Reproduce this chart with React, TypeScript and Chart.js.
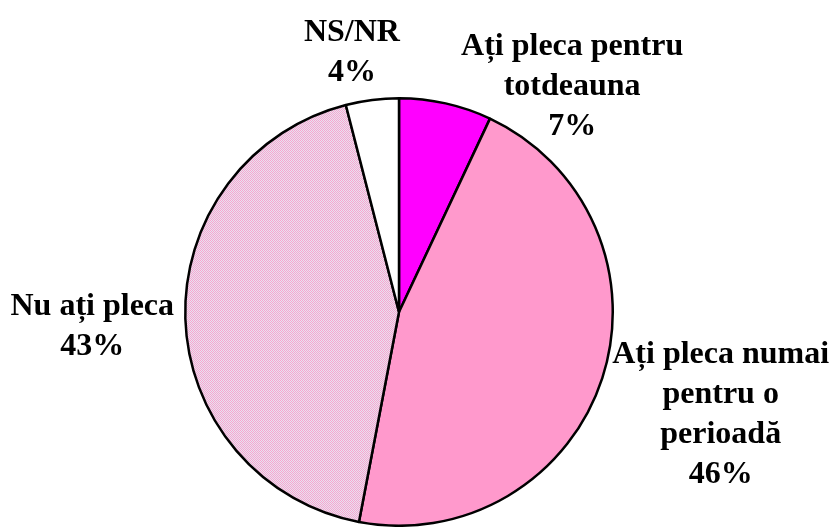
import React, { useEffect, useRef } from "react";
import { Chart, registerables } from "chart.js";

Chart.register(...registerables);

const categories: string[][] = [
  ["Ați pleca pentru", "totdeauna"],
  ["Ați pleca numai", "pentru o", "perioadă"],
  ["Nu ați pleca"],
  ["NS/NR"],
];
const values: number[] = [7, 46, 43, 4];
const percentLabels: string[] = ["7%", "46%", "43%", "4%"];

function makePattern(): CanvasPattern | string {
  const c = document.createElement("canvas");
  c.width = 4;
  c.height = 4;
  const ctx = c.getContext("2d");
  if (!ctx) return "#F2B8D6";
  ctx.fillStyle = "#E8E2F0";
  ctx.fillRect(0, 0, 4, 4);
  ctx.fillStyle = "#F7A6CF";
  for (let y = 0; y < 4; y++) {
    for (let x = 0; x < 4; x++) {
      if ((x + y) % 2 === 0) ctx.fillRect(x, y, 1, 1);
    }
  }
  const p = ctx.createPattern(c, "repeat");
  return p || "#F2B8D6";
}

// label centre offsets relative to pie centre, in units of radius (style)
const labelOffsets: [number, number][] = [
  [0.81, -1.055],
  [1.505, 0.48],
  [-1.435, 0.07],
  [-0.22, -1.215],
];

const labelPlugin = {
  id: "outerLabels",
  afterDatasetsDraw(chart: any) {
    const ctx = chart.ctx as CanvasRenderingContext2D;
    const meta = chart.getDatasetMeta(0);
    const arc0 = meta.data[0];
    if (!arc0) return;
    const cx = arc0.x;
    const cy = arc0.y;
    const r = arc0.outerRadius;
    const lineH = 40;
    ctx.save();
    ctx.font = "bold 32px 'Liberation Serif', 'Times New Roman', serif";
    ctx.fillStyle = "#000";
    ctx.textAlign = "center";
    ctx.textBaseline = "middle";
    categories.forEach((lines, i) => {
      const all = [...lines, percentLabels[i]];
      const [ox, oy] = labelOffsets[i];
      const lx = cx + ox * r;
      const ly = cy + oy * r;
      const top = ly - ((all.length - 1) * lineH) / 2;
      all.forEach((t, j) => ctx.fillText(t, lx, top + j * lineH));
    });
    ctx.restore();
  },
};

export default function App() {
  const ref = useRef<HTMLCanvasElement | null>(null);
  useEffect(() => {
    document.body.style.margin = "0";
    if (!ref.current) return;
    const chart = new Chart(ref.current, {
      type: "pie",
      data: {
        labels: categories.map((c) => c.join(" ")),
        datasets: [
          {
            data: values,
            backgroundColor: ["#FF00FF", "#FF99CC", makePattern(), "#FFFFFF"],
            borderColor: "#000000",
            borderWidth: 2.5,
          },
        ],
      },
      options: {
        responsive: false,
        animation: false,
        layout: { padding: { top: 97, bottom: 0, left: 184, right: 219 } },
        plugins: {
          legend: { display: false },
          tooltip: { enabled: false },
        },
      },
      plugins: [labelPlugin],
    });
    return () => chart.destroy();
  }, []);
  return (
    <div style={{ width: 833, height: 527, background: "#fff" }}>
      <canvas ref={ref} width={833} height={527} />
    </div>
  );
}
